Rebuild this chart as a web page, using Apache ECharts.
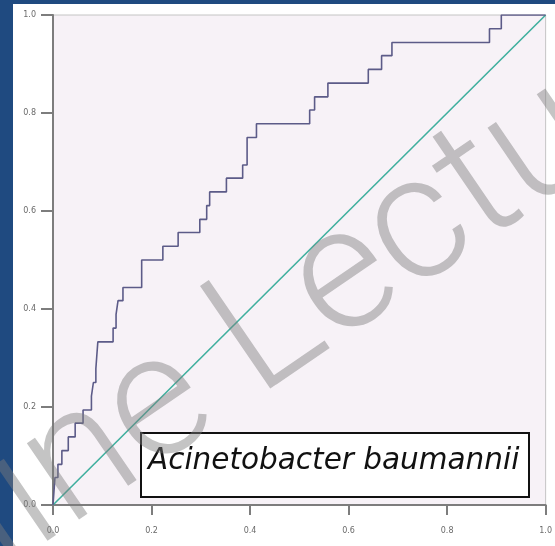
<!DOCTYPE html>
<html>
<head>
<meta charset="utf-8">
<script src="https://cdn.jsdelivr.net/npm/echarts@6/dist/echarts.min.js"></script>
<style>
html,body{margin:0;padding:0;background:#1f4a80;}
#wrap{position:absolute;left:13px;top:4px;width:542px;height:542px;background:#ffffff;}
#chart{position:absolute;left:0;top:0;width:555px;height:546px;}
</style>
</head>
<body>
<div id="wrap"></div>
<div id="chart"></div>
<script>
// ROC curve vertices (false positive rate, true positive rate)
const fpr = [0.000, 0.004, 0.010, 0.018, 0.031, 0.045, 0.061, 0.078, 0.082, 0.087, 0.089, 0.091,
             0.122, 0.128, 0.132, 0.142, 0.180, 0.223, 0.254, 0.298, 0.312, 0.318, 0.352,
             0.385, 0.394, 0.413, 0.521, 0.531, 0.558, 0.640, 0.667, 0.688, 0.886, 0.910, 1.000];
const tpr = [0.000, 0.056, 0.083, 0.111, 0.139, 0.167, 0.194, 0.222, 0.250, 0.278, 0.306, 0.333,
             0.361, 0.389, 0.417, 0.444, 0.500, 0.528, 0.556, 0.583, 0.611, 0.639, 0.667,
             0.694, 0.750, 0.778, 0.806, 0.833, 0.861, 0.889, 0.917, 0.944, 0.972, 1.000, 1.000];
// Reference line
const refX = [0, 1];
const refY = [0, 1];
const tickLabels = ['0.0', '0.2', '0.4', '0.6', '0.8', '1.0'];
const organism = 'Acinetobacter baumannii';
const watermark = 'Online Lectures';

const chart = echarts.init(document.getElementById('chart'), null, {renderer: 'canvas'});
const fmt = v => tickLabels[Math.round(v / 0.2)];
const axisCommon = {
  type: 'value', min: 0, max: 1, interval: 0.2,
  splitLine: {show: false},
  axisLine: {show: true, lineStyle: {color: '#7d7d7d', width: 2}},
  axisTick: {show: true, inside: false, lineStyle: {color: '#7d7d7d', width: 2}},
  axisLabel: {color: '#6a6a6a', fontSize: 8, fontFamily: 'DejaVu Sans', formatter: fmt}
};
chart.setOption({
  animation: false,
  backgroundColor: 'transparent',
  grid: {left: 53, right: 9, top: 15, bottom: 41, show: true,
         backgroundColor: '#f7f2f7', borderColor: '#c4c4c4', borderWidth: 1},
  xAxis: Object.assign({}, axisCommon, {
    axisTick: {show: true, length: 10, lineStyle: {color: '#7d7d7d', width: 2}},
    axisLabel: Object.assign({}, axisCommon.axisLabel, {margin: 22})
  }),
  yAxis: Object.assign({}, axisCommon, {
    axisTick: {show: true, length: 12, lineStyle: {color: '#7d7d7d', width: 2}},
    axisLabel: Object.assign({}, axisCommon.axisLabel, {margin: 17})
  }),
  series: [
    {type: 'line', data: refX.map((x, i) => [x, refY[i]]), symbol: 'none',
     lineStyle: {color: '#3faf9e', width: 1.6}, z: 2},
    {type: 'line', step: 'end', data: fpr.map((x, i) => [x, tpr[i]]), symbol: 'none',
     lineStyle: {color: '#5c5b88', width: 1.6}, z: 3}
  ],
  graphic: [
    {type: 'rect', left: 140, top: 432, z: 10,
     shape: {width: 388, height: 64},
     style: {fill: '#ffffff', stroke: '#111111', lineWidth: 2}},
    {type: 'text', left: 148, top: 446, z: 11,
     style: {text: organism, font: 'italic 29.5px "DejaVu Sans"', fill: '#111111'}},
    {type: 'text', x: 290, y: 322, rotation: 0.6, z: 20,
     style: {text: watermark, font: '300 175px Roboto, "Liberation Sans"', fill: 'rgba(125,125,125,0.45)',
             align: 'center', verticalAlign: 'middle'}}
  ]
});
</script>
</body>
</html>
